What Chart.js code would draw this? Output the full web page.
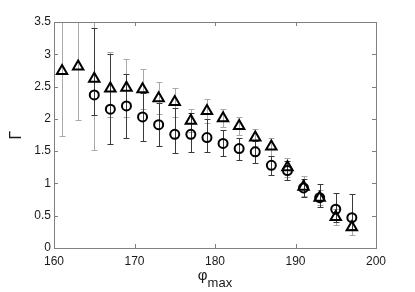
<!DOCTYPE html>
<html>
<head>
<meta charset="utf-8">
<script src="https://cdn.jsdelivr.net/npm/chart.js@4.4.0/dist/chart.umd.min.js"></script>
<style>
  html, body { margin: 0; padding: 0; background: #fff; }
  canvas { display: block; }
</style>
</head>
<body>
<canvas id="gammaChart" width="415" height="292"></canvas>
<script>
// phi_max positions
const phi = [161, 163, 165, 167, 169, 171, 173, 175, 177, 179, 181, 183, 185, 187, 189, 191, 193, 195, 197];

// triangle series + its (grey) error bar ends
const triVals = [2.74, 2.81, 2.62, 2.47, 2.48, 2.46, 2.32, 2.26, 1.97, 2.12, 2.01, 1.89, 1.71, 1.57, 1.25, 0.95, 0.78, 0.48, 0.32];
const triLow  = [1.73, 1.98, 1.52, 2.03, 2.03, 2.15, 2.07, 2.03, 1.79, 1.94, 1.87, 1.75, 1.58, 1.43, 1.10, 0.80, 0.66, 0.36, 0.20];
const triHigh = [3.75, 3.65, 3.75, 3.04, 2.93, 2.77, 2.57, 2.48, 2.15, 2.30, 2.16, 2.03, 1.84, 1.71, 1.40, 1.12, 0.90, 0.60, 0.44];

// circle series + its (dark) error bar ends
const circVals = [null, null, 2.37, 2.15, 2.20, 2.03, 1.91, 1.76, 1.76, 1.71, 1.62, 1.54, 1.49, 1.28, 1.20, 0.93, 0.78, 0.60, 0.47];
const circLow  = [null, null, 2.06, 1.61, 1.71, 1.66, 1.58, 1.47, 1.49, 1.48, 1.42, 1.37, 1.32, 1.13, 1.05, 0.79, 0.63, 0.40, 0.30];
const circHigh = [null, null, 3.40, 3.00, 2.69, 2.40, 2.24, 2.17, 2.09, 2.00, 1.82, 1.71, 1.66, 1.43, 1.35, 1.07, 0.99, 0.85, 0.83];

const xTicks = [160, 170, 180, 190, 200];
const yTicks = [0, 0.5, 1, 1.5, 2, 2.5, 3, 3.5];

function toPoints(vals) {
  return phi.map((p, i) => ({ x: p, y: vals[i] })).filter(d => d.y !== null);
}

const frame = {
  id: 'frame',
  beforeDatasetsDraw(chart) {
    const ctx = chart.ctx;
    const a = chart.chartArea;
    const xs = chart.scales.x, ys = chart.scales.y;
    ctx.save();
    ctx.beginPath();
    ctx.rect(a.left, a.top, a.right - a.left, a.bottom - a.top);
    ctx.clip();
    const bars = [
      { lo: triLow, hi: triHigh, color: '#a8a8a8' },
      { lo: circLow, hi: circHigh, color: '#3a3a3a' }
    ];
    bars.forEach(b => {
      ctx.strokeStyle = b.color;
      ctx.lineWidth = 1;
      phi.forEach((p, i) => {
        if (b.lo[i] === null) return;
        const x = Math.round(xs.getPixelForValue(p)) + 0.5;
        const y1 = Math.round(ys.getPixelForValue(b.lo[i])) + 0.5;
        const y2 = Math.round(ys.getPixelForValue(b.hi[i])) + 0.5;
        ctx.beginPath();
        ctx.moveTo(x, y1); ctx.lineTo(x, y2);
        ctx.moveTo(x - 3, y1); ctx.lineTo(x + 3, y1);
        ctx.moveTo(x - 3, y2); ctx.lineTo(x + 3, y2);
        ctx.stroke();
      });
    });
    ctx.restore();
  },
  afterDraw(chart) {
    const ctx = chart.ctx;
    const a = chart.chartArea;
    const xs = chart.scales.x, ys = chart.scales.y;
    ctx.save();
    ctx.strokeStyle = '#808080';
    ctx.lineWidth = 1;
    ctx.strokeRect(a.left + 0.5, a.top + 0.5, a.right - a.left, a.bottom - a.top);
    ctx.beginPath();
    xTicks.slice(1, -1).forEach(v => {
      const x = Math.round(xs.getPixelForValue(v)) + 0.5;
      ctx.moveTo(x, a.bottom); ctx.lineTo(x, a.bottom - 4);
      ctx.moveTo(x, a.top); ctx.lineTo(x, a.top + 4);
    });
    yTicks.slice(1, -1).forEach(v => {
      const y = Math.round(ys.getPixelForValue(v)) + 0.5;
      ctx.moveTo(a.left, y); ctx.lineTo(a.left + 4, y);
      ctx.moveTo(a.right, y); ctx.lineTo(a.right - 4, y);
    });
    ctx.stroke();

    // axis titles
    ctx.fillStyle = '#1a1a1a';
    ctx.textBaseline = 'alphabetic';
    ctx.font = '15px "Liberation Sans", Arial, sans-serif';
    const wPhi = ctx.measureText('φ').width;
    ctx.font = '13px "Liberation Sans", Arial, sans-serif';
    const wMax = ctx.measureText('max').width;
    const cx = (a.left + a.right) / 2;
    let x0 = cx - (wPhi + wMax) / 2;
    ctx.font = '15px "Liberation Sans", Arial, sans-serif';
    ctx.textAlign = 'left';
    ctx.fillText('φ', x0, 280);
    ctx.font = '13px "Liberation Sans", Arial, sans-serif';
    ctx.fillText('max', x0 + wPhi, 287);

    ctx.translate(17, 135);
    ctx.rotate(-Math.PI / 2);
    ctx.textAlign = 'center';
    ctx.textBaseline = 'middle';
    ctx.font = '16px "Liberation Sans", Arial, sans-serif';
    ctx.fillText('Γ', 0, 0);
    ctx.restore();
  }
};

document.addEventListener('DOMContentLoaded', function () {
  const ctx = document.getElementById('gammaChart').getContext('2d');
  new Chart(ctx, {
    type: 'scatter',
    data: {
      datasets: [
        {
          label: 'circles',
          data: toPoints(circVals),
          pointStyle: 'circle',
          pointRadius: 4.5,
          borderColor: '#000',
          backgroundColor: 'rgba(0,0,0,0)',
          borderWidth: 2
        },
        {
          label: 'triangles',
          data: toPoints(triVals),
          pointStyle: 'triangle',
          pointRadius: 6,
          borderColor: '#000',
          backgroundColor: 'rgba(0,0,0,0)',
          borderWidth: 2
        }
      ]
    },
    options: {
      responsive: false,
      animation: false,
      devicePixelRatio: 1,
      layout: { padding: { top: 22, right: 39, left: 0, bottom: 0 } },
      plugins: { legend: { display: false }, tooltip: { enabled: false } },
      scales: {
        x: {
          type: 'linear',
          min: 160,
          max: 200,
          afterBuildTicks: s => { s.ticks = xTicks.map(v => ({ value: v })); },
          afterFit: s => { s.height = 44; },
          ticks: { color: '#1a1a1a', font: { size: 12, family: '"Liberation Sans", Arial, sans-serif' }, padding: 6, callback: v => String(v) },
          grid: { display: false, drawTicks: false },
          border: { display: false }
        },
        y: {
          min: 0,
          max: 3.5,
          afterBuildTicks: s => { s.ticks = yTicks.map(v => ({ value: v })); },
          afterFit: s => { s.width = 54; },
          ticks: { color: '#1a1a1a', font: { size: 12, family: '"Liberation Sans", Arial, sans-serif' }, padding: 3, callback: v => String(v) },
          grid: { display: false, drawTicks: false },
          border: { display: false }
        }
      }
    },
    plugins: [frame]
  });
});
</script>
</body>
</html>
